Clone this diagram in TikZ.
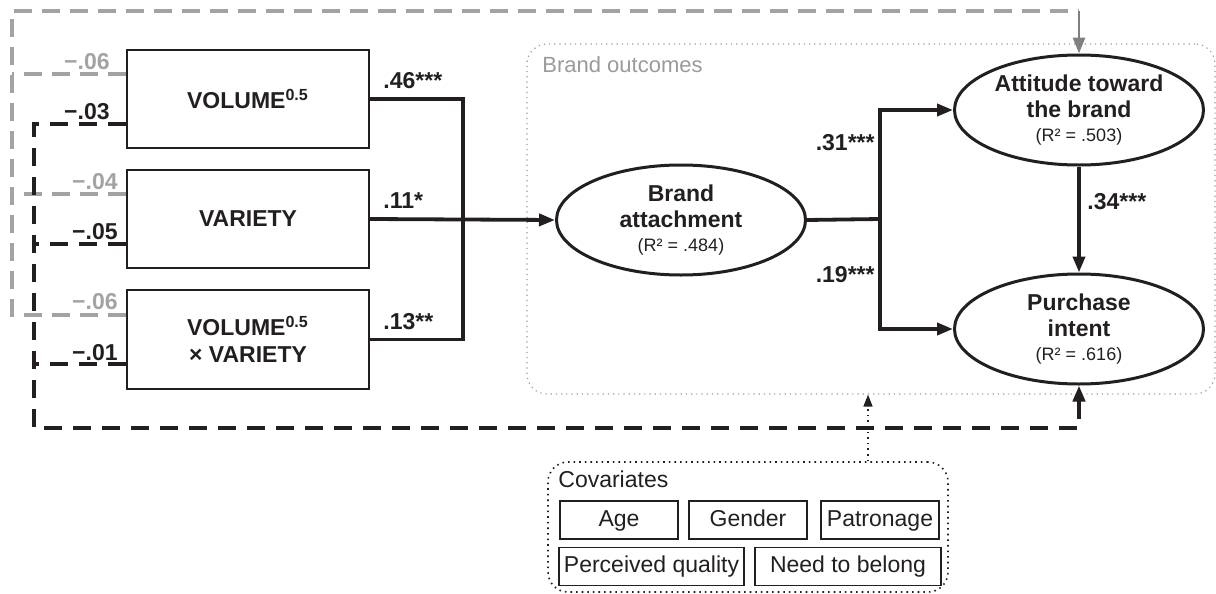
\documentclass[tikz,border=0pt]{standalone}
\usepackage{fontspec}
\setmainfont{Liberation Sans}
\usetikzlibrary{shapes.geometric,arrows.meta}
\definecolor{ink}{HTML}{231F20}
\definecolor{lgray}{HTML}{A3A3A3}
\definecolor{dgray}{HTML}{808080}
\definecolor{bgray}{HTML}{9A9A9A}
\newcommand{\rsqfont}{\fontsize{9}{12}\selectfont\mdseries}
\begin{document}
\begin{tikzpicture}[x=0.5pt,y=-0.5pt,
  ivbox/.style={draw=ink,line width=1.2pt,minimum width=121pt,minimum height=49pt,inner sep=0pt,align=center,font=\fontsize{11.5}{13.5}\selectfont\bfseries,text=ink},
  lat/.style={ellipse,draw=ink,line width=1.5pt,minimum width=124.5pt,minimum height=55pt,inner sep=0pt,align=center,font=\fontsize{11.5}{13}\selectfont\bfseries,text=ink},
  coef/.style={font=\fontsize{11.5}{13}\selectfont\bfseries,text=ink,inner sep=0pt},
  gcoef/.style={font=\fontsize{11.5}{13}\selectfont\bfseries,text=lgray,inner sep=0pt},
  solidln/.style={draw=ink,line width=1.9pt},
  tip/.style={-{Triangle[length=8pt,width=6pt]}},
  gdash/.style={draw=lgray,line width=1.6pt,dash pattern=on 9pt off 5pt},
  kdash/.style={draw=ink,line width=2pt,dash pattern=on 9pt off 5.5pt},
  covbox/.style={draw=ink,line width=0.7pt,inner sep=0pt,minimum height=19pt,text height=8.5pt,text depth=2.5pt,font=\fontsize{11.5}{13}\selectfont,text=ink},
  grpbox/.style={rounded corners=10pt,inner sep=0pt,dotted}
]
\useasboundingbox (0,0) rectangle (1216,594);

% group frames
\node[grpbox,draw=bgray,line width=0.6pt,minimum width=344pt,minimum height=175pt] (bo) at (871,219) {};
\node[anchor=west,inner sep=0pt,text=bgray,font=\fontsize{11}{13}\selectfont] (bolab) at (542,65) {Brand outcomes};

% independent variables
\node[ivbox] (b1) at (248,99) {VOLUME\textsuperscript{0.5}};
\node[ivbox] (b2) at (248,219) {VARIETY};
\node[ivbox,minimum height=49.5pt] (b3) at (248,339.5) {VOLUME\textsuperscript{0.5}\\× VARIETY};

% latent outcomes
\node[lat] (ba) at (681,220) {Brand\\attachment\\[-1pt]{\rsqfont (R² = .484)}};
\node[lat] (att) at (1079,110) {Attitude toward\\the brand\\[-1pt]{\rsqfont (R² = .503)}};
\node[lat] (pur) at (1079,329) {Purchase\\intent\\[-1pt]{\rsqfont (R² = .616)}};

% junctions
\coordinate (j1) at (463,219);
\coordinate (j2) at (880,219);
\draw[solidln] (b1.east) -| (j1);
\draw[solidln] (b3.east) -| (j1);
\draw[solidln,tip] (b2.east) -- (ba.west);
\draw[solidln] (ba.east) -- (j2);
\draw[solidln,tip] (j2) |- (att.west);
\draw[solidln,tip] (j2) |- (pur.west);
\draw[solidln,tip] (att.south) -- (pur.north);

% coefficients
\node[coef,anchor=west] (c46) at (383,81) {.46***};
\node[coef,anchor=west] (c11) at (383,201) {.11*};
\node[coef,anchor=west] (c13) at (383,322) {.13**};
\node[coef,anchor=east] (c31) at (875,143) {.31***};
\node[coef,anchor=east] (c19) at (875,275) {.19***};
\node[coef,anchor=west] (c34) at (1087,202) {.34***};

% gray dashed paths (to attitude)
\coordinate (ga) at (12,74);
\coordinate (gb) at (12,194);
\coordinate (gc) at (12,315);
\coordinate (gt) at (12,11);
\draw[gdash] (b1.west |- ga) -- (ga);
\draw[gdash] (b2.west |- gb) -- (gb);
\draw[gdash] (b3.west |- gc) -- (gc) -- (gt) -- (att.north |- gt);
\draw[draw=dgray,line width=1.4pt,-{Triangle[length=8pt,width=6pt]}] (att.north |- gt) -- (att.north);

% black dashed paths (to purchase)
\coordinate (ka) at (34,124);
\coordinate (kb) at (34,244);
\coordinate (kc) at (34,364);
\coordinate (kd) at (34,428);
\draw[kdash] (b2.west |- kb) -- (kb);
\draw[kdash] (b3.west |- kc) -- (kc);
\draw[kdash,tip] (b1.west |- ka) -- (ka) -- (kd) -| (pur.south);

% dashed path labels
\node[gcoef,anchor=east] (g1) at (110,62) {−.06};
\node[coef,anchor=east] (k1) at (110,112) {−.03};
\node[gcoef,anchor=east] (g2) at (118,182) {−.04};
\node[coef,anchor=east] (k2) at (118,232) {−.05};
\node[gcoef,anchor=east] (g3) at (118,302) {−.06};
\node[coef,anchor=east] (k3) at (118,353) {−.01};

% covariates
\node[grpbox,draw=ink,line width=0.8pt,minimum width=200pt,minimum height=65pt] (cov) at (748,527) {};
\node[anchor=west,inner sep=0pt,text=ink,font=\fontsize{11.5}{13}\selectfont] (covlab) at (558,479) {Covariates};
\node[covbox,minimum width=59pt] (age) at (619,520) {Age};
\node[covbox,minimum width=59pt] (gen) at (748,520) {Gender};
\node[covbox,minimum width=59pt] (pat) at (880,520) {Patronage};
\node[covbox,minimum width=92.5pt] (pq) at (651.5,566.5) {Perceived quality};
\node[covbox,minimum width=93pt] (ntb) at (848,566.5) {Need to belong};
\coordinate (cx) at (868,0);
\draw[ink,line width=0.8pt,dotted,-{Triangle[length=6pt,width=4.5pt]}] (cov.north -| cx) -- (bo.south -| cx);
\end{tikzpicture}
\end{document}
